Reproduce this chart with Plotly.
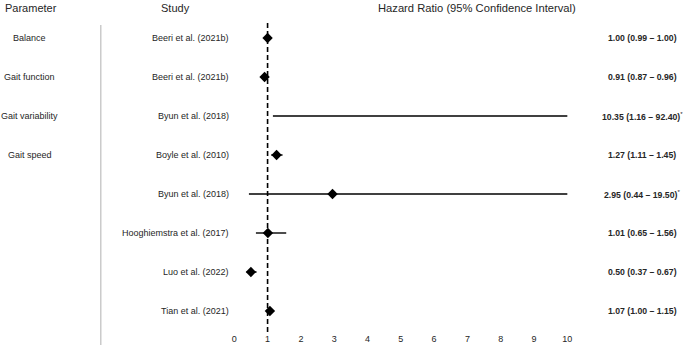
import plotly.graph_objects as go

parameters = ["Balance", "Gait function", "Gait variability", "Gait speed", "", "", "", ""]
studies = ["Beeri et al. (2021b)", "Beeri et al. (2021b)", "Byun et al. (2018)", "Boyle et al. (2010)",
           "Byun et al. (2018)", "Hooghiemstra et al. (2017)", "Luo et al. (2022)", "Tian et al. (2021)"]
hr = [1.00, 0.91, 10.35, 1.27, 2.95, 1.01, 0.50, 1.07]
lower = [0.99, 0.87, 1.16, 1.11, 0.44, 0.65, 0.37, 1.00]
upper = [1.00, 0.96, 92.40, 1.45, 19.50, 1.56, 0.67, 1.15]
flag = ["", "", "*", "", "*", "", "", ""]
x_ticks = list(range(0, 11))

rows = list(range(len(studies)))
W, H = 685, 346
PH = 332  # plot area height (pixels 0..332)
TXT = "#262626"
FONT = "Liberation Sans, Arial, sans-serif"


def py(pix):
    """paper y for a pixel row measured from the top"""
    return (PH - pix) / PH


fig = go.Figure()

# CI lines
lx, ly = [], []
for r, lo, hi in zip(rows, lower, upper):
    lx += [lo, hi, None]
    ly += [r, r, None]
fig.add_trace(go.Scatter(x=lx, y=ly, mode="lines", line=dict(color="black", width=1.4),
                         hoverinfo="skip", showlegend=False))
# point estimates
fig.add_trace(go.Scatter(x=hr, y=rows, mode="markers",
                         marker=dict(symbol="diamond", size=8, color="black"),
                         showlegend=False))

# null line at HR = 1
fig.add_shape(type="line", xref="x", yref="paper", x0=1, x1=1, y0=0, y1=py(20),
              line=dict(color="black", width=1.6, dash="5px,3px"), layer="below")
# grey separator
fig.add_shape(type="line", xref="paper", yref="paper", x0=99 / W, x1=99 / W,
              y0=py(345), y1=py(25), line=dict(color="#b0b0b0", width=1))

# headers
hdr_y = py(8)
fig.add_annotation(text="Parameter", xref="paper", yref="paper", x=0, y=hdr_y,
                   xanchor="left", yanchor="middle", showarrow=False,
                   font=dict(size=11, color=TXT, family=FONT))
fig.add_annotation(text="Study", xref="paper", yref="paper", x=175 / W, y=hdr_y,
                   xanchor="center", yanchor="middle", showarrow=False,
                   font=dict(size=11, color=TXT, family=FONT))
fig.add_annotation(text="Hazard Ratio (95% Confidence Interval)", xref="paper", yref="paper",
                   x=480 / W, y=hdr_y, xanchor="center", yanchor="middle", showarrow=False,
                   font=dict(size=11.2, color=TXT, family=FONT))

for r, p, s, h, lo, hi, f in zip(rows, parameters, studies, hr, lower, upper, flag):
    if p:
        fig.add_annotation(text=p, xref="paper", yref="y", x=27 / W, y=r, xanchor="center",
                           yanchor="middle", showarrow=False,
                           font=dict(size=9, color=TXT, family=FONT))
    fig.add_annotation(text=s, xref="paper", yref="y", x=231 / W, y=r, xanchor="right",
                       yanchor="middle", showarrow=False,
                       font=dict(size=9, color=TXT, family=FONT))
    label = f"<b>{h:.2f} ({lo:.2f} – {hi:.2f})</b>" + (f"<sup>{f}</sup>" if f else "")
    fig.add_annotation(text=label, xref="paper", yref="y", x=647 / W, y=r, xanchor="center",
                       yanchor="middle", showarrow=False,
                       font=dict(size=8.7, color=TXT, family=FONT))

fig.update_layout(
    width=W, height=H,
    margin=dict(l=0, r=0, t=0, b=H - PH),
    paper_bgcolor="white", plot_bgcolor="white",
    xaxis=dict(domain=[234 / W, 571 / W], range=[0, 10], tickvals=x_ticks,
               showgrid=False, zeroline=False, showline=False, ticks="",
               tickfont=dict(size=9, color=TXT, family=FONT)),
    yaxis=dict(range=[(PH - 38) / 39, -38 / 39], showgrid=False, zeroline=False,
               showline=False, showticklabels=False, ticks=""),
    font=dict(family=FONT, color=TXT),
)

fig.write_html("out.html", config={"displayModeBar": False},
               post_script="document.body.style.margin='0';document.body.style.overflow='hidden';")
